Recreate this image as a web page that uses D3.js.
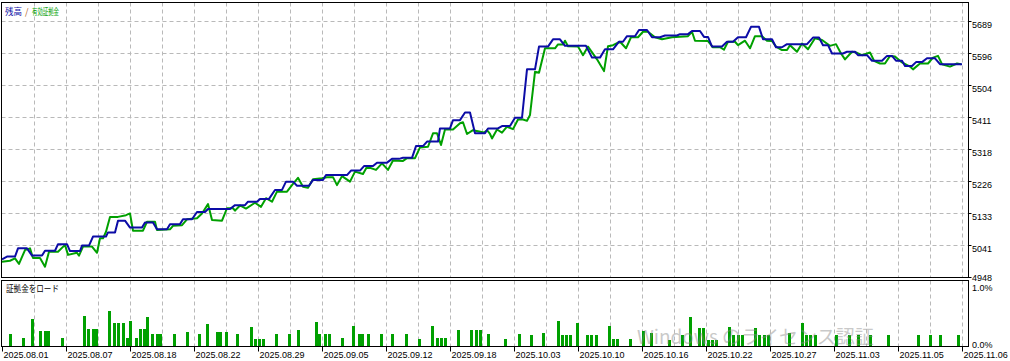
<!DOCTYPE html>
<html>
<head>
<meta charset="utf-8">
<script src="https://cdn.jsdelivr.net/npm/d3@7/dist/d3.min.js"></script>
<style>
  html, body { margin: 0; padding: 0; background: #fff; }
  svg { display: block; }
</style>
</head>
<body>
<svg id="chart" width="1010" height="361"></svg>
<script>
// ---------------- DATA ----------------
// x axis unit: deal position (0 .. 240)
const dateLabels = ["2025.08.01","2025.08.07","2025.08.18","2025.08.22","2025.08.29","2025.09.05","2025.09.12","2025.09.18","2025.10.03","2025.10.10","2025.10.16","2025.10.22","2025.10.27","2025.11.03","2025.11.05","2025.11.06"];
const yTickValues = [4948, 5041, 5133, 5226, 5318, 5411, 5504, 5596, 5689];
const loadTickValues = [0, 1];

// Balance (残高)
const balance = [
[0,4999],[1.25,5007],[3.25,5007],[4,5031],[6.25,5031],[7.5,5010],[10,5010],[10.75,5024],[13.25,5024],[14,5043],[16.25,5043],[17,5023],[19.5,5023],[20,5039],[21.75,5039],[22.75,5065],[26,5065],[26.5,5077],[28.25,5077],[29,5111],[30.75,5111],[32,5091],[35,5091],[35.75,5106],[37.75,5106],[38.75,5086],[41.25,5086],[42,5101],[44.5,5101],[45.25,5115],[47.5,5115],[48.75,5136],[50.75,5136],[51.5,5145],[57,5145],[58.25,5156],[60.75,5156],[61.5,5166],[63.75,5166],[64.5,5174],[66.75,5174],[68.25,5200],[70,5200],[71,5224],[72.75,5224],[73.75,5212],[76.75,5212],[77.75,5229],[80.25,5229],[81,5243],[86.25,5243],[87.25,5256],[89.5,5256],[90.5,5269],[92.75,5269],[93.75,5279],[96.25,5279],[97.5,5290],[99.25,5290],[100.25,5293],[102.5,5293],[103.5,5327],[105.25,5327],[106.25,5340],[109,5340],[109.5,5378],[112,5378],[112.75,5402],[114.5,5402],[115.75,5424],[117,5424],[118.25,5364],[120.75,5364],[121.5,5378],[124,5378],[125,5385],[127,5385],[128.25,5409],[130,5409],[131.25,5549],[133.25,5549],[134.25,5615],[136.5,5615],[137.75,5636],[139.5,5636],[140.75,5617],[146,5617],[147.5,5583],[149.5,5583],[150.75,5607],[152.75,5607],[154.25,5629],[155.25,5629],[156.25,5645],[158.25,5645],[159.25,5663],[161.25,5663],[162.5,5642],[164.5,5642],[165.75,5647],[168.75,5647],[169.5,5651],[171.5,5651],[172.5,5660],[174.5,5660],[175.5,5643],[176.5,5643],[177.5,5615],[180,5615],[181.25,5629],[182.75,5629],[184,5642],[186,5642],[187.25,5672],[189.25,5672],[190.25,5636],[192.5,5636],[193.5,5613],[195,5613],[196.25,5622],[201.25,5622],[202.75,5641],[204.25,5641],[205.25,5619],[206.5,5619],[207.5,5595],[210.25,5595],[211.25,5600],[213.25,5600],[214,5590],[216.25,5590],[217.5,5574],[220,5574],[221.25,5588],[222.5,5588],[223.5,5574],[225,5574],[225.75,5559],[227.5,5559],[228.5,5570],[230,5570],[231.25,5581],[233.25,5581],[234.5,5564],[240,5564]
];

// Equity (有効証拠金)
const equity = [
[0,4992],[2,4995],[3.25,5002],[4.25,4986],[5.75,5026],[7,5031],[7.75,5003],[9.5,5003],[10.75,4978],[11.75,5021],[14,5021],[15.75,5041],[16.5,5012],[18.75,5018],[19.25,5010],[20.25,5036],[22.5,5036],[23.75,5018],[24.5,5060],[25.25,5060],[26,5079],[27,5122],[29,5122],[31,5127],[32,5132],[32.75,5082],[35.25,5082],[36.25,5108],[38.25,5108],[38.75,5084],[42,5086],[42.75,5096],[45,5098],[46.25,5115],[48.75,5118],[50,5132],[51.5,5159],[52.5,5113],[55,5111],[56.25,5147],[57.75,5147],[58.25,5140],[59.5,5155],[61,5146],[63.25,5163],[64.75,5151],[66,5176],[67.5,5166],[68.75,5195],[71.25,5195],[72.5,5214],[74,5235],[75.25,5209],[76.5,5206],[77.75,5231],[80,5234],[81.25,5237],[82.75,5237],[83.75,5214],[85,5240],[87,5224],[88.25,5253],[90.25,5246],[91.25,5267],[93.5,5258],[95,5277],[96.5,5258],[97.75,5285],[100.25,5284],[101.25,5292],[103.25,5292],[104.5,5323],[106.5,5325],[107.75,5364],[108.75,5364],[109.75,5330],[110.75,5375],[112.75,5375],[114.5,5393],[115.25,5396],[116.25,5362],[117.75,5373],[120.5,5366],[121.25,5373],[122,5362],[122.5,5349],[123.75,5375],[125,5366],[126.25,5383],[127.75,5376],[129,5404],[130.25,5404],[131.25,5400],[132,5417],[133.25,5542],[134.25,5539],[135.75,5610],[138.25,5610],[139,5621],[140.25,5621],[140.75,5632],[141.5,5616],[144,5615],[145.25,5590],[146.5,5615],[148.75,5578],[150.5,5544],[151.5,5616],[152.75,5619],[154.5,5629],[156,5610],[157.25,5642],[159,5642],[160.25,5658],[161.5,5658],[163.25,5642],[165,5636],[167.5,5642],[171.5,5645],[172.5,5658],[173.25,5632],[176.5,5631],[177.75,5613],[179.5,5613],[180.5,5606],[181.5,5629],[183.25,5629],[184,5619],[185.75,5632],[187,5610],[188.25,5645],[190,5645],[191.25,5632],[192.5,5631],[193.5,5615],[195,5605],[196.25,5605],[197,5619],[198.75,5600],[200,5624],[201.5,5607],[203.25,5639],[205,5634],[207,5617],[208.5,5622],[209.75,5595],[210.75,5578],[212.5,5600],[213.75,5597],[215,5590],[217,5598],[218,5574],[219.5,5566],[220.75,5566],[222,5588],[223.25,5586],[225,5569],[227,5557],[227.75,5549],[229.5,5566],[231.5,5566],[232.75,5583],[234,5588],[235,5564],[237,5557],[238.75,5566],[239.75,5564]
];

// Margin load (証拠金をロード), percent
const marginLoad = [
[2,0.20],[5.25,0.13],[7.5,0.45],[9.5,0.25],[10.75,0.25],[11.75,0.25],[15,0.13],[20.5,0.50],[21.5,0.28],[22.75,0.28],[23.75,0.28],[26.75,0.58],[28,0.38],[29,0.38],[30.25,0.38],[31.25,0.13],[32.25,0.42],[33.5,0.13],[34.5,0.28],[35.5,0.28],[36.5,0.48],[37.5,0.20],[38.75,0.20],[39.75,0.20],[43,0.20],[46.25,0.23],[49.25,0.20],[51.5,0.37],[53.75,0.23],[54.75,0.23],[56,0.23],[59,0.20],[62.25,0.32],[63.25,0.12],[64.5,0.12],[65.5,0.12],[68.75,0.20],[72,0.20],[74,0.27],[78.5,0.40],[79.5,0.20],[80.75,0.20],[81.75,0.20],[85,0.13],[88,0.33],[89.25,0.20],[90.25,0.20],[91.5,0.20],[94.75,0.20],[97.75,0.20],[101,0.20],[104.25,0.12],[107.5,0.33],[108.75,0.13],[109.75,0.13],[110.75,0.13],[114,0.27],[117.25,0.27],[118.5,0.27],[119.5,0.27],[121.5,0.20],[125.75,0.12],[129.25,0.20],[132.25,0.18],[135.5,0.22],[139,0.42],[140,0.18],[141,0.18],[142,0.18],[144,0.38],[146.25,0.18],[147.25,0.18],[148.5,0.18],[151.75,0.33],[152.75,0.12],[153.75,0.12],[157,0.12],[160.25,0.25],[162.25,0.22],[166.75,0.10],[170,0.18],[172,0.48],[174.25,0.30],[175.25,0.30],[176.5,0.10],[177.5,0.10],[178.75,0.10],[181.75,0.32],[182.75,0.18],[184,0.18],[185,0.18],[188.25,0.30],[189.25,0.18],[190.5,0.18],[191.5,0.18],[196.75,0.22],[200,0.38],[201.25,0.18],[202.25,0.18],[203.25,0.18],[208.75,0.18],[211.75,0.18],[214.25,0.18],[217.25,0.18],[221.75,0.18],[229.25,0.18],[232.25,0.18],[234.5,0.18],[239,0.18]
];

// ---------------- DRAW ----------------
const svg = d3.select("#chart");
const FONT = "'Liberation Sans', Arial, sans-serif";
const CJK = "'Noto Sans CJK JP', 'Noto Sans CJK SC', sans-serif";
const BLUE = "#0c0ca6", GREEN = "#00a000", GRID = "#b9b9b9";

const P = { left: 1.5, right: 968.5, mainTop: 2.5, mainBottom: 277.5, lowTop: 280.5, lowBottom: 346.5 };

const x = d3.scaleLinear().domain([0, 240]).range([2, 962]);
const y = d3.scaleLinear().domain([4948, 5689]).range([277, 21]);
const yLow = d3.scaleLinear().domain([0, 1]).range([346, 286]);

svg.append("rect").attr("width", 1010).attr("height", 361).attr("fill", "#fff");

// clip for main panel
const defs = svg.append("defs");
defs.append("clipPath").attr("id", "clipMain")
  .append("rect").attr("x", P.left).attr("y", P.mainTop).attr("width", P.right - P.left).attr("height", P.mainBottom - P.mainTop);

// vertical grid
const gridTicks = d3.range(8, 241, 8);
const grid = svg.append("g").attr("stroke", GRID).attr("stroke-width", 1).attr("stroke-dasharray", "4,3");
gridTicks.forEach(t => {
  const gx = Math.round(x(t)) + 0.5;
  grid.append("line").attr("x1", gx).attr("x2", gx).attr("y1", P.mainTop).attr("y2", P.mainBottom);
  grid.append("line").attr("x1", gx).attr("x2", gx).attr("y1", P.lowTop).attr("y2", P.lowBottom);
});
// horizontal grid (main)
yTickValues.slice(1).forEach(v => {
  const gy = Math.round(y(v)) + 0.5;
  grid.append("line").attr("x1", P.left).attr("x2", P.right).attr("y1", gy).attr("y2", gy);
});

// margin load bars
svg.append("g").selectAll("rect").data(marginLoad).join("rect")
  .attr("x", d => Math.round(x(d[0]) - 1.5))
  .attr("width", 3)
  .attr("y", d => Math.round(yLow(d[1])))
  .attr("height", d => 346 - Math.round(yLow(d[1])))
  .attr("fill", GREEN);

// lines
const line = d3.line().x(d => x(d[0])).y(d => y(d[1]));
const lines = svg.append("g").attr("clip-path", "url(#clipMain)");
lines.append("path").datum(equity).attr("d", line)
  .attr("fill", "none").attr("stroke", GREEN).attr("stroke-width", 2).attr("stroke-linejoin", "round");
lines.append("path").datum(balance).attr("d", line)
  .attr("fill", "none").attr("stroke", BLUE).attr("stroke-width", 2).attr("stroke-linejoin", "round");

// panel borders
const borders = svg.append("g").attr("fill", "none").attr("stroke", "#000").attr("stroke-width", 1);
borders.append("rect").attr("x", P.left).attr("y", P.mainTop).attr("width", P.right - P.left).attr("height", P.mainBottom - P.mainTop);
borders.append("rect").attr("x", P.left).attr("y", P.lowTop).attr("width", P.right - P.left).attr("height", P.lowBottom - P.lowTop);

// right axis labels (main)
const axG = svg.append("g").attr("font-family", FONT).attr("font-size", 9).attr("fill", "#000");
yTickValues.forEach((v, i) => {
  const base = Math.round(y(v)) + (i === 0 ? 3.5 : 6.5);
  axG.append("text").attr("x", 972).attr("y", base).text(d3.format("d")(v));
  axG.append("line").attr("x1", P.right).attr("x2", P.right + 3)
    .attr("y1", Math.round(y(v)) + 0.5).attr("y2", Math.round(y(v)) + 0.5).attr("stroke", "#000");
});
// right axis labels (lower)
const pct = d3.format(".1f");
axG.append("text").attr("x", 972).attr("y", Math.round(yLow(loadTickValues[1])) + 5).text(pct(loadTickValues[1]) + "%");
axG.append("text").attr("x", 972).attr("y", Math.round(yLow(loadTickValues[0])) + 1.5).text(pct(loadTickValues[0]) + "%");

// bottom date labels
dateLabels.forEach((lab, i) => {
  const t = i * 16;
  const tx = Math.round(x(t)) + 0.5;
  axG.append("line").attr("x1", tx).attr("x2", tx).attr("y1", P.lowBottom).attr("y2", P.lowBottom + 5).attr("stroke", "#000");
  axG.append("text").attr("x", tx + 1).attr("y", 358).text(lab);
});

// legends
const lg = svg.append("g").attr("font-family", CJK).attr("font-size", 9);
lg.append("text").attr("x", 5).attr("y", 15).attr("fill", BLUE)
  .attr("textLength", 17).attr("lengthAdjust", "spacingAndGlyphs").text("残高");
lg.append("text").attr("x", 25).attr("y", 15).attr("fill", "#b06020").text("/");
lg.append("text").attr("x", 32).attr("y", 15).attr("fill", GREEN)
  .attr("textLength", 27).attr("lengthAdjust", "spacingAndGlyphs").text("有効証拠金");
lg.append("text").attr("x", 6).attr("y", 292).attr("fill", "#000")
  .attr("textLength", 53).attr("lengthAdjust", "spacingAndGlyphs").text("証拠金をロード");

// OS watermark overlay
const wm = svg.append("g").attr("font-family", CJK).attr("fill", "#8a8a8a").attr("opacity", 0.45);
wm.append("text").attr("x", 637).attr("y", 344).attr("font-size", 19).text("Windows のライセンス認証");
</script>
</body>
</html>
